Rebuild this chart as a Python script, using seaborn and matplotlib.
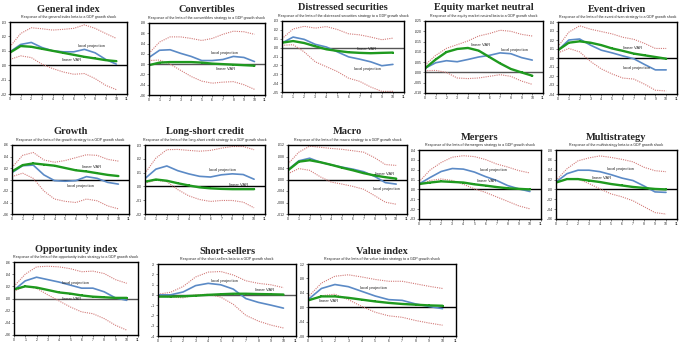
import matplotlib
matplotlib.use("Agg")
import numpy as np
import pandas as pd
import seaborn as sns
from matplotlib import pyplot as plt

horizon = list(range(11))

# General index
gen_lp = [0.0093, 0.0144, 0.0158, 0.0123, 0.0100, 0.0093, 0.0093, 0.0110, 0.0086, 0.0040, 0.0007]
gen_var = [0.0088, 0.0133, 0.0128, 0.0114, 0.0100, 0.0086, 0.0072, 0.0058, 0.0047, 0.0035, 0.0028]
gen_up = [0.0128, 0.0220, 0.0260, 0.0253, 0.0244, 0.0249, 0.0256, 0.0280, 0.0256, 0.0220, 0.0186]
gen_lo = [0.0040, 0.0065, 0.0053, 0.0007, -0.0023, -0.0047, -0.0063, -0.0058, -0.0093, -0.0140, -0.0170]

# Convertibles
conv_lp = [0.013, 0.027, 0.028, 0.021, 0.015, 0.007, 0.007, 0.009, 0.015, 0.013, 0.005]
conv_var = [-0.002, 0.003, 0.004, 0.004, 0.004, 0.003, 0.001, 0.000, -0.001, -0.002, -0.003]
conv_up = [0.021, 0.043, 0.053, 0.053, 0.050, 0.046, 0.050, 0.058, 0.064, 0.063, 0.058]
conv_lo = [0.007, 0.008, 0.000, -0.012, -0.024, -0.033, -0.037, -0.035, -0.034, -0.040, -0.049]

# Distressed securities
dist_lp = [0.0052, 0.0119, 0.0093, 0.0037, 0.0007, -0.0048, -0.0104, -0.0130, -0.0160, -0.0204, -0.0189]
dist_var = [0.0056, 0.0074, 0.0052, 0.0015, -0.0019, -0.0037, -0.0052, -0.0059, -0.0063, -0.0059, -0.0056]
dist_up = [0.0100, 0.0210, 0.0240, 0.0220, 0.0237, 0.0204, 0.0156, 0.0144, 0.0119, 0.0089, 0.0107]
dist_lo = [0.0026, 0.0033, -0.0048, -0.0160, -0.0215, -0.0270, -0.0344, -0.0380, -0.0444, -0.0493, -0.0493]

# Equity market neutral
emn_lp = [0.0020, 0.0047, 0.0057, 0.0052, 0.0063, 0.0075, 0.0083, 0.0095, 0.0091, 0.0072, 0.0060]
emn_var = [0.0020, 0.0063, 0.0099, 0.0114, 0.0119, 0.0106, 0.0075, 0.0044, 0.0017, 0.0000, -0.0016]
emn_up = [0.0036, 0.0083, 0.0117, 0.0135, 0.0153, 0.0177, 0.0189, 0.0205, 0.0200, 0.0185, 0.0177]
emn_lo = [0.0008, 0.0010, 0.0000, -0.0027, -0.0030, -0.0027, -0.0019, -0.0011, -0.0019, -0.0042, -0.0058]

# Event-driven
evd_lp = [0.0087, 0.0200, 0.0211, 0.0143, 0.0087, 0.0057, 0.0023, -0.0008, -0.0072, -0.0132, -0.0132]
evd_var = [0.0087, 0.0170, 0.0185, 0.0170, 0.0143, 0.0106, 0.0079, 0.0049, 0.0030, 0.0011, -0.0008]
evd_up = [0.0125, 0.0287, 0.0358, 0.0320, 0.0294, 0.0268, 0.0230, 0.0208, 0.0162, 0.0106, 0.0106]
evd_lo = [0.0057, 0.0106, 0.0068, -0.0038, -0.0121, -0.0177, -0.0223, -0.0234, -0.0291, -0.0358, -0.0366]

# Growth
gro_lp = [0.012, 0.024, 0.025, 0.008, -0.002, -0.003, -0.002, 0.005, 0.002, -0.005, -0.008]
gro_var = [0.014, 0.025, 0.028, 0.026, 0.024, 0.020, 0.016, 0.014, 0.011, 0.008, 0.006]
gro_up = [0.021, 0.042, 0.047, 0.034, 0.030, 0.033, 0.038, 0.043, 0.042, 0.035, 0.032]
gro_lo = [0.005, 0.011, 0.002, -0.020, -0.034, -0.038, -0.040, -0.034, -0.037, -0.046, -0.051]

# Long-short credit
lsc_lp = [0.0057, 0.0125, 0.0148, 0.0114, 0.0091, 0.0073, 0.0068, 0.0084, 0.0091, 0.0086, 0.0052]
lsc_var = [0.0034, 0.0050, 0.0041, 0.0023, 0.0007, -0.0007, -0.0014, -0.0018, -0.0020, -0.0020, -0.0020]
lsc_up = [0.0095, 0.0205, 0.0266, 0.0268, 0.0261, 0.0255, 0.0261, 0.0277, 0.0289, 0.0289, 0.0266]
lsc_lo = [0.0023, 0.0045, 0.0034, -0.0023, -0.0068, -0.0095, -0.0109, -0.0102, -0.0102, -0.0114, -0.0155]

# Macro
mac_lp = [0.0034, 0.0065, 0.0074, 0.0060, 0.0051, 0.0043, 0.0036, 0.0027, 0.0011, -0.0011, -0.0016]
mac_var = [0.0032, 0.0062, 0.0067, 0.0060, 0.0051, 0.0041, 0.0032, 0.0022, 0.0014, 0.0008, 0.0003]
mac_up = [0.0054, 0.0095, 0.0116, 0.0112, 0.0108, 0.0105, 0.0100, 0.0095, 0.0076, 0.0052, 0.0049]
mac_lo = [0.0020, 0.0038, 0.0032, 0.0009, -0.0009, -0.0016, -0.0024, -0.0034, -0.0056, -0.0079, -0.0086]

# Mergers
mer_lp = [0.0055, 0.0121, 0.0182, 0.0212, 0.0206, 0.0176, 0.0130, 0.0091, 0.0039, 0.0006, -0.0021]
mer_var = [0.0055, 0.0070, 0.0082, 0.0076, 0.0070, 0.0052, 0.0039, 0.0024, 0.0012, 0.0006, 0.0000]
mer_up = [0.0076, 0.0197, 0.0273, 0.0327, 0.0342, 0.0333, 0.0303, 0.0258, 0.0227, 0.0191, 0.0167]
mer_lo = [0.0045, 0.0091, 0.0106, 0.0091, 0.0052, 0.0006, -0.0030, -0.0076, -0.0121, -0.0167, -0.0197]

# Multistrategy
mul_lp = [0.015, 0.032, 0.039, 0.039, 0.036, 0.030, 0.023, 0.018, 0.007, -0.005, -0.006]
mul_var = [0.014, 0.021, 0.021, 0.018, 0.015, 0.011, 0.008, 0.005, 0.003, 0.001, 0.000]
mul_up = [0.018, 0.042, 0.058, 0.064, 0.068, 0.065, 0.061, 0.056, 0.045, 0.038, 0.036]
mul_lo = [0.013, 0.021, 0.021, 0.012, 0.001, -0.009, -0.015, -0.023, -0.035, -0.047, -0.050]

# Opportunity index
opp_lp = [0.014, 0.029, 0.035, 0.031, 0.027, 0.022, 0.017, 0.017, 0.011, 0.001, -0.003]
opp_var = [0.015, 0.020, 0.018, 0.014, 0.010, 0.008, 0.005, 0.003, 0.002, 0.001, 0.001]
opp_up = [0.020, 0.040, 0.052, 0.053, 0.052, 0.049, 0.044, 0.045, 0.041, 0.031, 0.025]
opp_lo = [0.012, 0.020, 0.017, 0.006, -0.004, -0.014, -0.022, -0.025, -0.033, -0.044, -0.052]

# Short-sellers
shs_lp = [0.000, 0.000, 0.028, 0.090, 0.112, 0.098, 0.056, -0.036, -0.073, -0.100, -0.129]
shs_var = [-0.017, -0.017, -0.014, -0.008, 0.000, 0.006, 0.011, 0.011, 0.008, 0.006, 0.003]
shs_up = [0.006, 0.025, 0.081, 0.174, 0.221, 0.227, 0.193, 0.137, 0.112, 0.098, 0.070]
shs_lo = [-0.008, -0.022, -0.028, 0.000, 0.006, -0.022, -0.092, -0.199, -0.255, -0.294, -0.322]

# Value index
val_lp = [0.021, 0.052, 0.063, 0.057, 0.044, 0.031, 0.021, 0.019, 0.009, 0.002, -0.004]
val_var = [0.019, 0.030, 0.030, 0.026, 0.021, 0.016, 0.012, 0.009, 0.007, 0.005, 0.004]
val_up = [0.028, 0.067, 0.086, 0.090, 0.084, 0.077, 0.072, 0.072, 0.065, 0.058, 0.052]
val_lo = [0.017, 0.032, 0.036, 0.021, 0.002, -0.014, -0.024, -0.028, -0.037, -0.044, -0.050]

W, H = 685, 342
BLUE = "#5b8ac6"
GREEN = "#1f9a1f"
RED = "#d27a78"


def box(l, t, r, b):
    return [l / W, 1 - b / H, (r - l) / W, (b - t) / H]


panels = [
    dict(title="General index", sub="Response of the general index beta to a GDP growth shock",
         data=(gen_lp, gen_var, gen_up, gen_lo), box=(10, 22, 127, 94), ticks=(-2, 3, 0.01, 2),
         lp_txt=(6.4, 0.0133), var_txt=(4.9, 0.0033), zero="black"),
    dict(title="Convertibles", sub="Response of the beta of the convertibles strategy to a GDP growth shock",
         data=(conv_lp, conv_var, conv_up, conv_lo), box=(149, 23, 265, 95), ticks=(-3, 4, 0.02, 2),
         lp_txt=(5.9, 0.021), var_txt=(6.4, -0.010), zero="#555555"),
    dict(title="Distressed securities",
         sub="Response of the beta of the distressed securities strategy to a GDP growth shock",
         data=(dist_lp, dist_var, dist_up, dist_lo), box=(282, 21, 404, 92), ticks=(-5, 3, 0.01, 2),
         lp_txt=(6.5, -0.024), var_txt=(6.75, -0.0018), zero="#555555"),
    dict(title="Equity market neutral", sub="Response of the equity market neutral beta to a GDP growth shock",
         data=(emn_lp, emn_var, emn_up, emn_lo), box=(425, 21, 543, 93), ticks=(-2, 5, 0.005, 3),
         lp_txt=(7.1, 0.0110), var_txt=(4.3, 0.0135), zero="#555555"),
    dict(title="Event-driven", sub="Response of the beta of the event driven strategy to a GDP growth shock",
         data=(evd_lp, evd_var, evd_up, evd_lo), box=(558, 22, 677, 94), ticks=(-4, 4, 0.01, 2),
         lp_txt=(6.0, -0.0113), var_txt=(6.0, 0.0113), zero="black"),
    dict(title="Growth", sub="Response of the beta of the growth strategy to a GDP growth shock",
         data=(gro_lp, gro_var, gro_up, gro_lo), box=(12, 145, 129, 214), ticks=(-3, 3, 0.02, 2),
         lp_txt=(5.2, -0.011), var_txt=(6.6, 0.022), zero="black"),
    dict(title="Long-short credit", sub="Response of the beta of the long-short credit strategy to a GDP growth shock",
         data=(lsc_lp, lsc_var, lsc_up, lsc_lo), box=(145, 145, 265, 214), ticks=(-2, 3, 0.01, 2),
         lp_txt=(5.9, 0.0118), var_txt=(7.7, 0.0007), zero="black"),
    dict(title="Macro", sub="Response of the beta of the macro strategy to a GDP growth shock",
         data=(mac_lp, mac_var, mac_up, mac_lo), box=(288, 145, 407, 214), ticks=(-3, 3, 0.004, 3),
         lp_txt=(7.9, -0.0032), var_txt=(8.0, 0.0020), zero="black"),
    dict(title="Mergers", sub="Response of the beta of themergers strategy to a GDP growth shock",
         data=(mer_lp, mer_var, mer_up, mer_lo), box=(419, 150, 541, 219), ticks=(-3, 4, 0.01, 2),
         lp_txt=(5.5, 0.0197), var_txt=(5.2, 0.0082), zero="black"),
    dict(title="Multistrategy", sub="Response of the multistrategy beta to a GDP growth shock",
         data=(mul_lp, mul_var, mul_up, mul_lo), box=(556, 150, 677, 219), ticks=(-3, 4, 0.02, 2),
         lp_txt=(4.6, 0.041), var_txt=(3.3, 0.023), zero="black"),
    dict(title="Opportunity index", sub="Response of the beta of the opportunity index strategy to a GDP growth shock",
         data=(opp_lp, opp_var, opp_up, opp_lo), box=(14, 262, 138, 335), ticks=(-3, 3, 0.02, 2),
         lp_txt=(4.3, 0.026), var_txt=(4.3, -0.0006), zero="#555555"),
    dict(title="Short-sellers", sub="Response of the short-sellers beta to a GDP growth shock",
         data=(shs_lp, shs_var, shs_up, shs_lo), box=(158, 264, 296, 336), ticks=(-4, 3, 0.1, 1),
         lp_txt=(4.2, 0.137), var_txt=(7.7, 0.048), zero="#555555"),
    dict(title="Value index", sub="Response of the beta of the value index strategy to a GDP growth shock",
         data=(val_lp, val_var, val_up, val_lo), box=(308, 264, 456, 336), ticks=(-2, 3, 0.04, 2),
         lp_txt=(3.9, 0.052), var_txt=(0.85, 0.017), zero="black"),
]


def fmt(v, dec):
    s = f"{v:.{dec}f}"
    if s.startswith("-0"):
        s = "-" + s[2:]
    elif s.startswith("0"):
        s = s[1:]
    return s


sns.set_style("ticks")
plt.rcParams["font.family"] = ["Liberation Sans", "DejaVu Sans"]

fig = plt.figure(figsize=(W / 100, H / 100), dpi=100)

for p in panels:
    ax = fig.add_axes(box(*p["box"]))
    lp, var, up, lo = p["data"]
    lo_t, hi_t, step, dec = p["ticks"]
    df = pd.DataFrame({"h": horizon, "lp": lp, "var": var, "up": up, "lo": lo})

    ax.axhline(0, color=p["zero"], lw=1.0, zorder=1)
    sns.lineplot(data=df, x="h", y="up", ax=ax, color=RED, lw=0.8, linestyle=(0, (1, 1)))
    sns.lineplot(data=df, x="h", y="lo", ax=ax, color=RED, lw=0.8, linestyle=(0, (1, 1)))
    sns.lineplot(data=df, x="h", y="lp", ax=ax, color=BLUE, lw=1.2)
    sns.lineplot(data=df, x="h", y="var", ax=ax, color=GREEN, lw=1.7, marker="s",
                 markersize=2, markeredgewidth=0)

    ax.set_xlim(0, 11)
    ax.set_ylim(lo_t * step, hi_t * step)
    yt = [k * step for k in range(lo_t, hi_t + 1)]
    ax.set_yticks(yt)
    ax.set_yticklabels([fmt(v, dec) for v in yt])
    ax.set_xticks(range(12))
    ax.tick_params(labelsize=2.5, length=1.2, width=0.4, pad=1)
    ax.set_xlabel("")
    ax.set_ylabel("")
    for s in ax.spines.values():
        s.set_visible(True)
        s.set_linewidth(1.0)
        s.set_color("black")

    ax.text(*p["lp_txt"], "local projection", fontsize=3, va="center", ha="left")
    ax.text(*p["var_txt"], "linear VAR", fontsize=3, va="center", ha="left")

    l, t, r, b = p["box"]
    cx = (l + r) / 2 / W
    fig.text(cx, 1 - (t - 5) / H, p["sub"], fontsize=2.6, ha="center", va="center")
    fig.text(cx, 1 - (t - 13) / H, p["title"], fontsize=7.5, fontweight="bold",
             family="Liberation Serif", ha="center", va="center")

fig.savefig("out.png", dpi=100)
